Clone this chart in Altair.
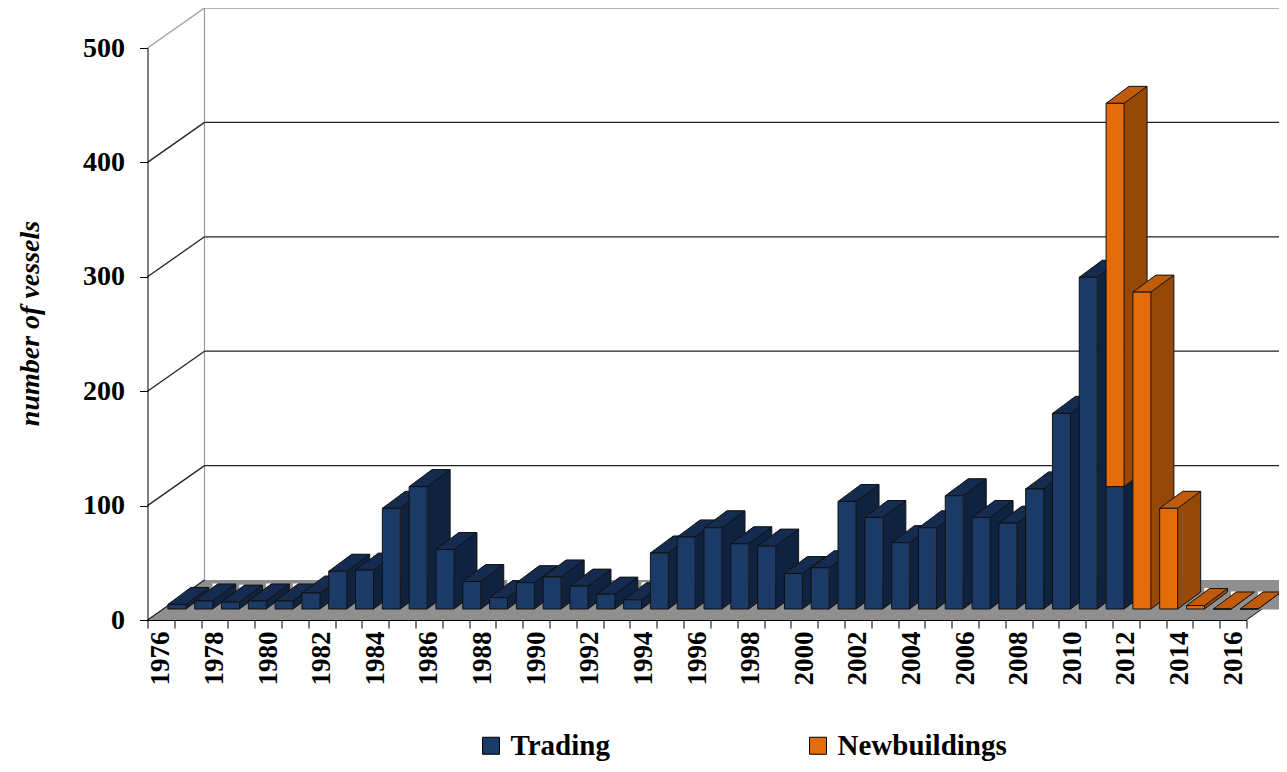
import altair as alt
import pandas as pd

# ---------------- data ----------------
YEARS = list(range(1976, 2017))
TRADING = [4, 7, 6, 7, 7, 14, 33, 34, 88, 107,
           52, 24, 10, 23, 28, 20, 13, 8, 49, 63,
           71, 57, 55, 31, 36, 94, 80, 58, 71, 99,
           80, 75, 105, 171, 290, 107, 0, 0, 0, 0, 0]
NEWBUILDINGS = [0] * 35 + [335, 277, 88, 3, 0, 0]
SERIES = ["Trading", "Newbuildings"]
Y_TICKS = [0, 100, 200, 300, 400, 500]

# ---------------- style ----------------
FONT = "Liberation Serif"
FRONT = ["#1c3a66", "#e46c0a"]
SIDE = ["#0f2240", "#964806"]
TOP = ["#152c50", "#c05b0c"]
FLOOR_C = "#8f8f8f"
EDGE = "#111111"

W, H = 1099, 572
FW, OX, OY = 18, 16, 11      # front face width, depth offset of the bar row
DX, DY = 23, 17              # bar depth
WX, WY = 57, 40              # floor / wall depth

fl, fr = OX - FW / 2, OX + FW / 2
TOP_PATH = f"M{fl},{-OY} L{fr},{-OY} L{fr+DX},{-OY-DY} L{fl+DX},{-OY-DY} Z"
NOTCH_PATH = f"M{fr-0.3},{-OY-DY-0.5} L{fl+DX},{-OY-DY-0.5} L{fl+DX},{-OY-DY} L{fr-0.3},{-OY-DY*FW/DX} Z"
COVER_PATH = f"M{fr},{-OY} L{fr+DX},{-OY-DY} L{fr+DX+1},{-OY-DY} L{fr+DX+1},{-OY+0.5} L{fr},{-OY+0.5} Z"
DIAG_PATH = f"M{fr},{-OY} L{fr+DX},{-OY-DY}"
FLOOR_PATH = f"M0,0 L{W},0 L{W+WX},{-WY} L{WX},{-WY} Z"
FLOOR_EDGE = f"M{W},0 L{W+WX},{-WY}"

# ---------------- table ----------------
rows = []
for yr, t, n in zip(YEARS, TRADING, NEWBUILDINGS):
    if t > 0:
        rows.append(dict(year=yr, series="Trading", base=0, top=t, below="floor",
                         is_top=not (n > 0)))
    if n > 0 or t == 0:
        rows.append(dict(year=yr, series="Newbuildings", base=t, top=t + n,
                         below="floor" if t == 0 else "Trading", is_top=True))
segs = pd.DataFrame(rows)
tops = segs[segs["is_top"]]
ticks = pd.DataFrame({"v": Y_TICKS})
one = pd.DataFrame({"a": [0]})

YSCALE = alt.Scale(domain=[0, 500], nice=False, zero=True)
XSCALE = alt.Scale(domain=YEARS, paddingInner=0, paddingOuter=0)

XAXIS = alt.Axis(title=None, labelExpr="datum.value % 2 == 0 ? datum.label : ''",
                 labelAngle=270, labelFont=FONT, labelFontWeight="bold", labelFontSize=27,
                 labelColor="black", labelPadding=3, labelOverlap=False,
                 tickBand="extent", tickSize=8, tickColor="black", domainColor="black",
                 grid=False, zindex=1)
YAXIS = alt.Axis(values=Y_TICKS, title="number of vessels", titleFont=FONT,
                 titleFontStyle="italic", titleFontWeight="bold", titleFontSize=28,
                 titleColor="black", titleX=-117.5, titleY=275, titleAngle=270,
                 titleAlign="center", titleBaseline="middle",
                 labelFont=FONT, labelFontWeight="bold", labelFontSize=28, labelColor="black",
                 labelPadding=15, tickSize=8, tickColor="black", domainColor="black",
                 grid=False, zindex=1)

X = alt.X("year:O", scale=XSCALE, axis=XAXIS)


def Yf(f):
    return alt.Y(f"{f}:Q", scale=YSCALE, axis=YAXIS, stack=None)


# floor
floor = alt.Chart(one).mark_point(shape=FLOOR_PATH, size=4, filled=True, fill=FLOOR_C,
                                  opacity=1, strokeWidth=0).encode(
    x=alt.value(0), y=alt.datum(0, scale=YSCALE))
floor_edge = alt.Chart(one).mark_point(shape=FLOOR_EDGE, size=4, filled=False, color=EDGE,
                                       opacity=1, strokeWidth=1).encode(
    x=alt.value(0), y=alt.datum(0, scale=YSCALE))

# back wall
wall_edge = alt.Chart(one).mark_rule(color="#9a9a9a", strokeWidth=1.2, yOffset=-WY,
                                     y2Offset=-WY).encode(
    x=alt.value(WX), y=alt.datum(0, scale=YSCALE), y2=alt.datum(500))
grid = alt.Chart(ticks[ticks.v > 0]).mark_rule(strokeWidth=1.3, yOffset=-WY).encode(
    x=alt.value(WX), x2=alt.value(W + 70), y=Yf("v"),
    color=alt.condition("datum.v == 500", alt.value("#9a9a9a"), alt.value("#222222")))
diag = alt.Chart(ticks).mark_rule(strokeWidth=1.3, y2Offset=-WY).encode(
    x=alt.value(0), x2=alt.value(WX), y=Yf("v"), y2=alt.Y2("v"),
    color=alt.condition("datum.v == 500", alt.value("#9a9a9a"), alt.value("#222222")))

# bars
side = alt.Chart(segs).mark_bar(width=DX, xOffset=fr + DX / 2, yOffset=-OY - DY,
                                y2Offset=-OY, opacity=1, strokeWidth=0).encode(
    x=X, y=Yf("top"), y2="base",
    fill=alt.Fill("series:N", scale=alt.Scale(domain=SERIES, range=SIDE), legend=None))
side_edge = alt.Chart(segs).mark_rule(xOffset=fr + DX, yOffset=-OY - DY, y2Offset=-OY - DY,
                                      color=EDGE, strokeWidth=1, opacity=1).encode(
    x=X, y=Yf("top"), y2="base")
cover = alt.Chart(segs).mark_point(shape=COVER_PATH, size=4, filled=True, opacity=1,
                                   strokeWidth=0).encode(
    x=X, y=Yf("base"),
    fill=alt.Fill("below:N", scale=alt.Scale(domain=["floor", "Trading"],
                                              range=[FLOOR_C, SIDE[0]]), legend=None))
diag_edge = alt.Chart(segs).mark_point(shape=DIAG_PATH, size=4, filled=False, color=EDGE,
                                       opacity=1, strokeWidth=1).encode(
    x=X, y=Yf("base"))
notch = alt.Chart(tops).mark_point(shape=NOTCH_PATH, size=4, filled=True, fill="white",
                                   opacity=1, strokeWidth=0).encode(
    x=X, y=Yf("top"))
top = alt.Chart(tops).mark_point(shape=TOP_PATH, size=4, filled=True, opacity=1,
                                 stroke=EDGE, strokeWidth=1).encode(
    x=X, y=Yf("top"),
    fill=alt.Fill("series:N", scale=alt.Scale(domain=SERIES, range=TOP), legend=None))
front = alt.Chart(segs).mark_bar(width=FW, xOffset=OX, yOffset=-OY, y2Offset=-OY,
                                 stroke=EDGE, strokeWidth=1, opacity=1).encode(
    x=X, y=Yf("top"), y2="base",
    color=alt.Color("series:N", scale=alt.Scale(domain=SERIES, range=FRONT),
                    legend=alt.Legend(orient="none", legendX=329, legendY=683,
                                      direction="horizontal", title=None,
                                      symbolType="square", symbolSize=289,
                                      symbolStrokeColor="black", symbolStrokeWidth=1,
                                      symbolOpacity=1, labelFont=FONT,
                                      labelFontWeight="bold", labelFontSize=29,
                                      labelColor="black", labelOffset=5, labelLimit=0,
                                      columnPadding=193, padding=0)))

chart = alt.layer(
    floor, floor_edge, wall_edge, grid, diag,
    side, side_edge, cover, diag_edge, notch, top, front
).resolve_scale(fill="independent").properties(
    width=W, height=H,
    autosize=alt.AutoSizeParams(type="none"),
    padding={"left": 139.5, "top": 40, "right": 32.5, "bottom": 144},
    background="white",
).configure_view(stroke=None)

chart.save("out.html", embed_options={"renderer": "svg", "actions": False})
